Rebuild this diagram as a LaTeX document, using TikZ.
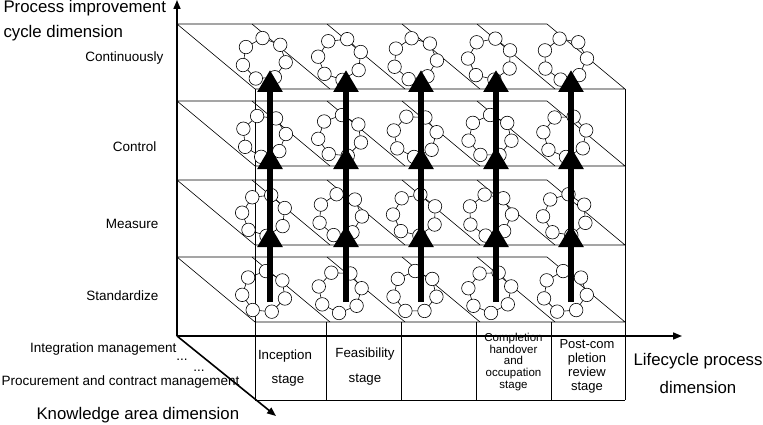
\documentclass[tikz,border=0pt]{standalone}
\usepackage{fontspec}
\setmainfont{Liberation Sans}
\usetikzlibrary{arrows.meta}

\tikzset{
  frame/.style={black, line width=0.6pt},
  axis/.style={black, line width=1.6pt, -{Triangle[width=7pt,length=9pt]}},
  cycle arrow/.style={black, line width=6.5pt, -{Triangle[width=24pt,length=22pt]}},
  ball/.style={circle, draw, fill=white, minimum size=13.5pt, inner sep=0pt, line width=0.6pt},
  lbl/.style={font=\fontsize{13.5}{15}\selectfont},
  big/.style={font=\fontsize{16.8}{18}\selectfont},
  cell/.style={font=\fontsize{13.3}{13.3}\selectfont, align=center}
}

\begin{document}
\begin{tikzpicture}[x=1pt, y=-1pt]
\useasboundingbox (0,0) rectangle (763,425);

% planes
\foreach \t in {24,101,180,257} {
  \pgfmathsetmacro{\f}{\t+65}
  \draw[frame] (177,\t) -- (547,\t) -- (625,\f) -- (255,\f) -- cycle;
  \foreach \x in {252,327,402,477} {
    \draw[frame] (\x,\t) -- (\x+78,\f);
  }
}
\draw[frame] (255,89) -- (255,400);
\draw[frame] (625,89) -- (625,400);
\draw[frame] (255,400) -- (625,400);
\foreach \x in {326,401,476,551} {
  \draw[frame] (\x,322) -- (\x,400);
}

% rings
\foreach \t [count=\i] in {24,101,180,257} {
  \foreach \x [count=\j] in {264,340,415,490,565} {
    \pgfmathsetmacro{\cy}{\t+35}
    \pgfmathsetmacro{\rot}{mod(\i*37+\j*23,51)}
    \draw[frame] \foreach \k in {0,...,6} {
      ({\x+22*cos(\rot+\k*360/7)},{\cy+21*sin(\rot+\k*360/7)}) -- ({\x+22*cos(\rot+(\k+1)*360/7)},{\cy+21*sin(\rot+(\k+1)*360/7)})
    };
    \foreach \k in {0,...,6} {
      \node[ball] (b\i\j\k) at ({\x+22*cos(\rot+\k*360/7)},{\cy+21*sin(\rot+\k*360/7)}) {};
    }
  }
}

% arrows
\foreach \x in {270,346,421,496,571} {
  \draw[cycle arrow] (\x,302) -- (\x,225);
  \draw[cycle arrow] (\x,238) -- (\x,147);
  \draw[cycle arrow] (\x,160) -- (\x,70);
}

% axes
\coordinate (o) at (177,336);
\coordinate (up) at (177,0);
\coordinate (rt) at (682,336);
\coordinate (dn) at (276,416);
\draw[axis] (o) -- (up);
\draw[axis] (o) -- (rt);
\draw[axis] (o) -- (dn);

% texts
\node[big, anchor=west] (pi) at (0,8) {Process improvement};
\node[big, anchor=west] (cd) at (0,33) {cycle dimension};
\node[lbl, anchor=east] (l1) at (167,58) {Continuously};
\node[lbl, anchor=east] (l2) at (160,147) {Control};
\node[lbl, anchor=east] (l3) at (162,224) {Measure};
\node[lbl, anchor=east] (l4) at (162,296) {Standardize};
\node[lbl, anchor=east] (k1) at (180,349) {Integration management};
\node[lbl] (d1) at (182,360) {...};
\node[lbl] (d2) at (199,371) {...};
\node[lbl, anchor=west] (k2) at (-2,382) {Procurement and contract management};
\node[big, anchor=west] (kd) at (33,415) {Knowledge area dimension};
\node[big] (lp) at (698,361) {Lifecycle process};
\node[big] (ld) at (698,387) {dimension};
\node[cell] (s1) at (285,356) {Inception};
\node[cell] (s1b) at (288,381) {stage};
\node[cell] (s2) at (365,354) {Feasibility};
\node[cell] (s2b) at (365,380) {stage};
\node[cell, font=\fontsize{11.5}{11.8}\selectfont] (s4) at (513.5,362) {Completion\\handover\\and\\occupation\\stage};
\node[cell, font=\fontsize{13}{14}\selectfont] (s5) at (587,366) {Post-com\\pletion\\review\\stage};
\end{tikzpicture}
\end{document}
